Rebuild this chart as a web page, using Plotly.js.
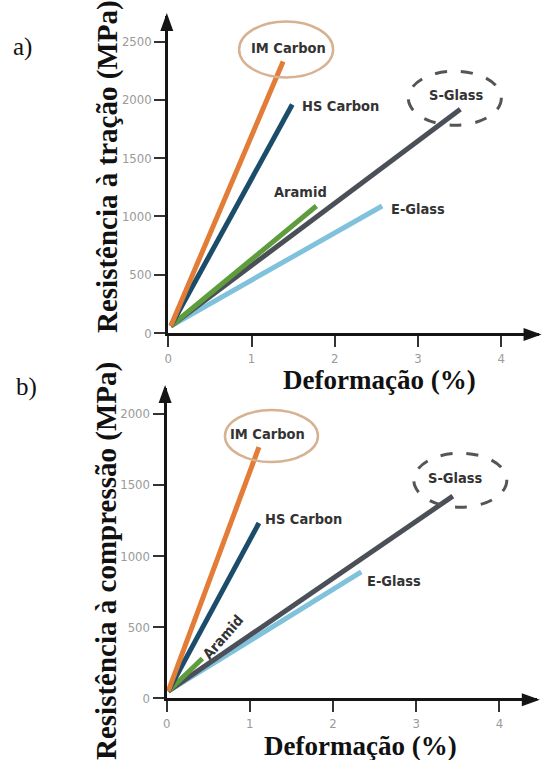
<!DOCTYPE html>
<html>
<head>
<meta charset="utf-8">
<script src="https://cdn.plot.ly/plotly-3.0.1.min.js"></script>
<style>html,body{margin:0;padding:0;background:#fff}#chart{width:542px;height:760px}</style>
</head>
<body>
<div id="chart"></div>
<script>
// ---- data ----
const materials = ['IM Carbon', 'HS Carbon', 'Aramid', 'S-Glass', 'E-Glass'];
// a) tensile: end points (strain %, strength MPa)
const tensileStrain = [1.38, 1.49, 1.78, 3.51, 2.57];
const tensileStrength = [2330, 1960, 1090, 1920, 1090];
// b) compressive: end points
const compStrain = [1.11, 1.11, 0.43, 3.44, 2.34];
const compStrength = [1765, 1232, 280, 1420, 888];
// common start point of every line
const startStrain = [0.03, 0.02];
const startStrength = [60, 50];
const xTicks = [0, 1, 2, 3, 4];
const yTicksA = [0, 500, 1000, 1500, 2000, 2500];
const yTicksB = [0, 500, 1000, 1500, 2000];

// ---- styles ----
const colors = {'IM Carbon': '#e27c36', 'HS Carbon': '#1b4d6b', 'Aramid': '#5e9c3c', 'S-Glass': '#4b5058', 'E-Glass': '#80c2dc'};
const drawOrder = ['E-Glass', 'S-Glass', 'Aramid', 'HS Carbon', 'IM Carbon'];
const sansNarrow = '"Liberation Sans Narrow", "DejaVu Sans Condensed", "Liberation Sans", sans-serif';
const serif = '"Liberation Serif", "Times New Roman", serif';

const traces = [];
function addSet(strain, strength, start, xa, ya) {
  drawOrder.forEach(name => {
    const i = materials.indexOf(name);
    traces.push({
      type: 'scatter', mode: 'lines', xaxis: xa, yaxis: ya,
      x: [start[0], strain[i]], y: [start[1], strength[i]],
      line: {color: colors[name], width: 5},
      hoverinfo: 'skip', name: name
    });
  });
}
addSet(tensileStrain, tensileStrength, [startStrain[0], startStrength[0]], 'x', 'y');
addSet(compStrain, compStrength, [startStrain[1], startStrength[1]], 'x2', 'y2');

const W = 542, H = 760;
const pxPerX = 83.2;
const xMax = 4.45;
// top panel
const aLeft = 168.3, aZero = 333, aTop = 16;
const aYMax = 2720;
// bottom panel
const bLeft = 166.6, bZero = 698.3, bTop = 388;
const bYMax = 2180;

function axisX(left, domainAnchor) {
  return {
    domain: [left / W, (left + pxPerX * xMax) / W], range: [0, xMax], anchor: domainAnchor,
    showgrid: false, zeroline: false, showline: true, linecolor: '#151515', linewidth: 3,
    ticks: 'outside', ticklen: 11, tickwidth: 2, tickcolor: '#333',
    tickvals: xTicks, ticktext: xTicks.map(String),
    tickfont: {family: sansNarrow, size: 13, color: '#9a9a9a'}, fixedrange: true
  };
}
function axisY(zero, top, yMax, ticks, anchor) {
  return {
    domain: [(H - zero) / H, (H - top) / H], range: [0, yMax], anchor: anchor,
    showgrid: false, zeroline: false, showline: true, linecolor: '#151515', linewidth: 3,
    ticks: 'outside', ticklen: 11, tickwidth: 2, tickcolor: '#333',
    tickvals: ticks, ticktext: ticks.map(String),
    tickfont: {family: sansNarrow, size: 13, color: '#9a9a9a'}, fixedrange: true
  };
}

// label offsets (pixels, relative to each line's end point)
const labelOffA = {
  'IM Carbon': {dx: 5, dy: 13, anchor: 'center'},
  'HS Carbon': {dx: 8, dy: -1, anchor: 'left'},
  'Aramid': {dx: -16, dy: 14, anchor: 'center'},
  'S-Glass': {dx: -4, dy: 14, anchor: 'center'},
  'E-Glass': {dx: 7, dy: -3, anchor: 'left'}
};
const labelOffB = {
  'IM Carbon': {dx: 9, dy: 13, anchor: 'center'},
  'HS Carbon': {dx: 4, dy: 4, anchor: 'left'},
  'Aramid': {dx: 21, dy: 21, anchor: 'center', angle: -49},
  'S-Glass': {dx: 3, dy: 18, anchor: 'center'},
  'E-Glass': {dx: 4, dy: -9, anchor: 'left'}
};
const annotations = [];
function addLabels(strain, strength, offs, xa, ya) {
  materials.forEach((name, i) => {
    const o = offs[name];
    annotations.push({
      xref: xa, yref: ya, x: strain[i], y: strength[i], text: '<b>' + name + '</b>',
      showarrow: false, xanchor: o.anchor, yanchor: 'middle', xshift: o.dx, yshift: o.dy,
      textangle: o.angle || 0,
      font: {family: sansNarrow, size: 14.5, color: '#333'}
    });
  });
}
addLabels(tensileStrain, tensileStrength, labelOffA, 'x', 'y');
addLabels(compStrain, compStrength, labelOffB, 'x2', 'y2');

// titles and panel letters
function paperText(px, py, text, size, bold, angle) {
  return {xref: 'paper', yref: 'paper', x: px / W, y: (H - py) / H, xanchor: 'center', yanchor: 'middle',
    text: bold ? '<b>' + text + '</b>' : text, textangle: angle || 0, showarrow: false,
    font: {family: serif, size: size, color: '#111'}};
}
annotations.push(
  paperText(108, 167, 'Resistência à tração (MPa)', 29, true, -90),
  paperText(106, 561, 'Resistência à compressão (MPa)', 29, true, -90),
  paperText(379, 380, 'Deformação (%)', 27, true),
  paperText(360, 746, 'Deformação (%)', 27, true),
  paperText(22, 47, 'a)', 25, false),
  paperText(26, 387, 'b)', 25, false)
);

// highlight ellipses and axis arrowheads
function ellipse(xa, ya, x, y, x0, x1, y0, y1, color, width, dash) {
  return {type: 'circle', xref: xa, yref: ya, xsizemode: 'pixel', ysizemode: 'pixel', xanchor: x, yanchor: y,
    x0: x0, x1: x1, y0: y0, y1: y1, line: {color: color, width: width, dash: dash}, layer: 'above'};
}
function arrowUp(pxX, pxY) {
  return {type: 'path', xref: 'paper', yref: 'paper', xsizemode: 'pixel', ysizemode: 'pixel',
    xanchor: pxX / W, yanchor: (H - pxY) / H,
    path: 'M0,3 L-6.5,-15 L6.5,-15 Z', fillcolor: '#151515', line: {width: 0}, layer: 'above'};
}
function arrowRight(pxX, pxY) {
  return {type: 'path', xref: 'paper', yref: 'paper', xsizemode: 'pixel', ysizemode: 'pixel',
    xanchor: pxX / W, yanchor: (H - pxY) / H,
    path: 'M3,0 L-15,-6.5 L-15,6.5 Z', fillcolor: '#151515', line: {width: 0}, layer: 'above'};
}
const iIM = materials.indexOf('IM Carbon'), iS = materials.indexOf('S-Glass');
const shapes = [
  ellipse('x', 'y', tensileStrain[iIM], tensileStrength[iIM], -44, 50, -16, 40, '#d6b291', 2.5, 'solid'),
  ellipse('x', 'y', tensileStrain[iS], tensileStrength[iS], -52, 41, -16, 38, '#555', 3, '12px,14px'),
  ellipse('x2', 'y2', compStrain[iIM], compStrength[iIM], -34, 59, -15, 37, '#d6b291', 2.5, 'solid'),
  ellipse('x2', 'y2', compStrain[iS], compStrength[iS], -39, 54, -11, 43, '#555', 3, '12px,14px'),
  arrowUp(aLeft - 1.5, aTop), arrowRight(aLeft + pxPerX * xMax, aZero + 1.5),
  arrowUp(bLeft - 1.5, bTop), arrowRight(bLeft + pxPerX * xMax, bZero + 1.5)
];

const layout = {
  width: W, height: H, margin: {l: 0, r: 0, t: 0, b: 0},
  paper_bgcolor: '#fff', plot_bgcolor: 'rgba(0,0,0,0)', showlegend: false,
  xaxis: axisX(aLeft, 'y'), yaxis: axisY(aZero, aTop, aYMax, yTicksA, 'x'),
  xaxis2: axisX(bLeft, 'y2'), yaxis2: axisY(bZero, bTop, bYMax, yTicksB, 'x2'),
  annotations: annotations, shapes: shapes
};
Plotly.newPlot('chart', traces, layout, {displayModeBar: false, staticPlot: true});
</script>
</body>
</html>
